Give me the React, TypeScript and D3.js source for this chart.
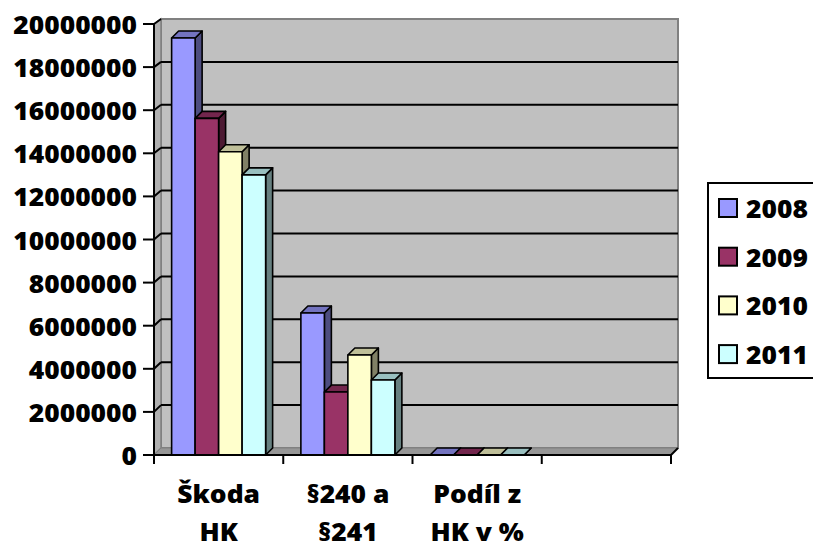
import React from "react";
import * as d3 from "d3";

const categories = ["Škoda HK", "§240 a §241", "Podíl z HK v %", ""];
const categoryLines = [["Škoda", "HK"], ["§240 a", "§241"], ["Podíl z", "HK v %"], []];
const seriesNames = ["2008", "2009", "2010", "2011"];
const values2008 = [19350000, 6590000, 34];
const values2009 = [15620000, 2920000, 18];
const values2010 = [14070000, 4640000, 33];
const values2011 = [13000000, 3480000, 26];
const yTicks = [0, 2000000, 4000000, 6000000, 8000000, 10000000, 12000000, 14000000, 16000000, 18000000, 20000000];
const frontColors = ["#9999ff", "#993366", "#ffffcc", "#ccffff"];
const topColors = ["#7373bf", "#73264d", "#bfbf99", "#99bfbf"];
const sideColors = ["#4d4d80", "#4d1a33", "#808066", "#668080"];

const seriesValues = [values2008, values2009, values2010, values2011];

const W = 813;
const H = 548;
const DX = 7;
const DY = -7;
const FONT = "'Open Sans', Lato, sans-serif";
const SX = 1.1;
const FS = 24;

export default function App() {
  const yFront = d3.scaleLinear().domain([0, 20000000]).range([455, 24]);
  const yBack = d3.scaleLinear().domain([0, 20000000]).range([448, 19]);
  const x0 = d3.scaleBand<string>().domain(categories).range([154, 671]).padding(0);
  const x1 = d3.scaleBand<string>().domain(seriesNames).range([0, x0.bandwidth()]).paddingInner(0).paddingOuter(0.75);

  const xL = 154, xR = 671;
  const bx = (x: number) => x + DX;

  const bars: React.ReactNode[] = [];
  categories.forEach((cat, ci) => {
    seriesNames.forEach((s, si) => {
      const v = seriesValues[si][ci];
      if (v === undefined) return;
      const xa = (x0(cat) as number) + (x1(s) as number);
      const xb = xa + x1.bandwidth();
      const yt = yFront(v);
      const yb = yFront(0);
      const front = `M${xa},${yt}L${xb},${yt}L${xb},${yb}L${xa},${yb}Z`;
      const top = `M${xa},${yt}L${xa + DX},${yt + DY}L${xb + DX},${yt + DY}L${xb},${yt}Z`;
      const side = `M${xb},${yt}L${xb + DX},${yt + DY}L${xb + DX},${yb + DY}L${xb},${yb}Z`;
      bars.push(
        <g key={`${ci}-${si}`} stroke="#000" strokeWidth={1.6} strokeLinejoin="round">
          <path d={side} fill={sideColors[si]} />
          <path d={top} fill={topColors[si]} />
          <path d={front} fill={frontColors[si]} />
        </g>
      );
    });
  });

  const scaledText = (key: string, x: number, y: number, txt: string, anchor: string) => (
    <text
      key={key}
      transform={`translate(${x},${y}) scale(${SX},1)`}
      textAnchor={anchor}
      fontFamily={FONT}
      fontWeight={800}
      fontSize={FS}
      fill="#000"
    >
      {txt}
    </text>
  );

  return (
    <svg width={W} height={H} style={{ position: "absolute", left: 0, top: 0, display: "block" }}>
      <rect x={0} y={0} width={W} height={H} fill="#fff" />
      {/* back wall */}
      <rect x={bx(xL)} y={yBack(20000000)} width={xR - xL} height={yBack(0) - yBack(20000000)} fill="#c0c0c0" stroke="#808080" strokeWidth={2} />
      {/* side wall */}
      <path
        d={`M${xL},${yFront(20000000)}L${bx(xL)},${yBack(20000000)}L${bx(xL)},${yBack(0)}L${xL},${yFront(0)}Z`}
        fill="#b0b0b0"
        stroke="#808080"
        strokeWidth={1.5}
      />
      {/* floor */}
      <path
        d={`M${xL},${yFront(0)}L${xR},${yFront(0)}L${bx(xR)},${yBack(0)}L${bx(xL)},${yBack(0)}Z`}
        fill="#969696"
        stroke="#808080"
        strokeWidth={1}
      />
      {/* gridlines */}
      {yTicks.filter((t) => t > 0 && t < 20000000).map((t) => (
        <g key={t} stroke="#000" strokeWidth={2}>
          <line x1={bx(xL)} x2={bx(xR)} y1={yBack(t)} y2={yBack(t)} />
          <line x1={xL} x2={bx(xL)} y1={yFront(t)} y2={yBack(t)} />
        </g>
      ))}
      {bars}
      {/* y axis */}
      <line x1={xL} x2={xL} y1={yFront(20000000)} y2={yFront(0)} stroke="#000" strokeWidth={2} />
      <line x1={xL} x2={bx(xL)} y1={yFront(20000000)} y2={yBack(20000000)} stroke="#000" strokeWidth={2} />
      {yTicks.map((t) => (
        <line key={`yt${t}`} x1={143} x2={xL} y1={yFront(t)} y2={yFront(t)} stroke="#000" strokeWidth={2} />
      ))}
      {yTicks.map((t) => scaledText(`yl${t}`, 137, yFront(t) + 10, String(t), "end"))}
      {/* x axis */}
      <line x1={xL} x2={xR} y1={yFront(0)} y2={yFront(0)} stroke="#000" strokeWidth={2} />
      <line x1={xR} x2={bx(xR)} y1={yFront(0)} y2={yBack(0)} stroke="#000" strokeWidth={2} />
      {categories.map((c) => (
        <line key={`xt${c}`} x1={x0(c) as number} x2={x0(c) as number} y1={yFront(0)} y2={yFront(0) + 9} stroke="#000" strokeWidth={2} />
      ))}
      <line x1={xR} x2={xR} y1={yFront(0)} y2={yFront(0) + 9} stroke="#000" strokeWidth={2} />
      {categories.map((c, ci) =>
        categoryLines[ci].map((ln, li) =>
          scaledText(`cl${ci}-${li}`, (x0(c) as number) + x0.bandwidth() / 2, 503 + li * 38, ln, "middle")
        )
      )}
      {/* legend */}
      <rect x={708} y={183} width={130} height={195} fill="#fff" stroke="#000" strokeWidth={2} />
      {seriesNames.map((s, i) => (
        <g key={`lg${s}`}>
          <rect x={719} y={199 + i * 48.7} width={18} height={18} fill={frontColors[i]} stroke="#000" strokeWidth={2} />
          {scaledText(`lt${s}`, 746, 218 + i * 48.7, s, "start")}
        </g>
      ))}
    </svg>
  );
}
